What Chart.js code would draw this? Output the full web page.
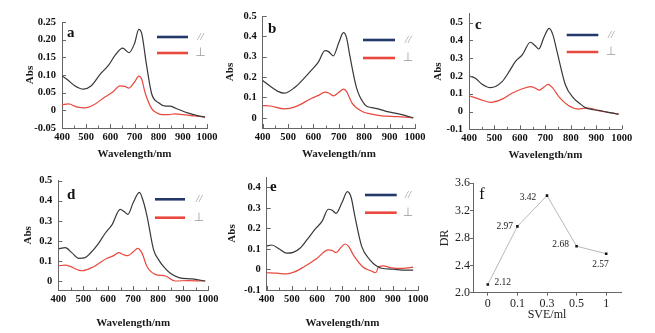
<!DOCTYPE html>
<html><head><meta charset="utf-8">
<script src="https://cdn.jsdelivr.net/npm/chart.js@4.4.1/dist/chart.umd.min.js"></script>
<style>
html,body{margin:0;padding:0;background:#fff;}
#wrap{position:relative;width:655px;height:333px;overflow:hidden;background:#fff;}
#wrap canvas{position:absolute;left:0;top:0;}
</style></head>
<body><div id="wrap"></div>
<script>
// ---------- DATA ----------
const X_TICKS = [400, 500, 600, 700, 800, 900, 1000];
const X_MINOR = [450, 550, 650, 750, 850, 950];
const SERIES_LABELS = ['//', '\u22A5'];

const WL_A = [400,420,450,488,520,560,592,620,651,677,700,718,730,750,771,798,830,847,870,923,960,992];
const A_PAR = [0.097,0.088,0.071,0.060,0.069,0.104,0.127,0.156,0.176,0.163,0.189,0.229,0.217,0.127,0.047,0.022,0.012,0.012,0.006,-0.008,-0.015,-0.019];
const WL_A2 = [400,427,460,495,530,578,610,640,660,677,700,718,730,743,771,790,812,840,868,900,950,992];
const A_PERP = [0.016,0.018,0.010,0.007,0.015,0.038,0.052,0.069,0.068,0.063,0.080,0.097,0.088,0.052,0.005,-0.006,-0.012,-0.012,-0.010,-0.012,-0.016,-0.019];
const A_Y_TICKS = [-0.05,0,0.05,0.10,0.15,0.20,0.25];
const A_Y_LABELS = ['-0.05','0','0.05','0.10','0.15','0.20','0.25'];

const WL_B = [400,435,460,485,527,560,593,620,645,660,678,700,718,730,744,770,803,830,855,880,921,960,993];
const B_PAR = [0.183,0.150,0.130,0.121,0.150,0.190,0.235,0.275,0.330,0.325,0.304,0.370,0.418,0.395,0.300,0.146,0.064,0.050,0.044,0.034,0.023,0.012,0.000];
const WL_B2 = [400,430,485,530,593,620,645,660,678,700,718,730,752,792,830,869,930,993];
const B_PERP = [0.060,0.058,0.044,0.055,0.096,0.110,0.126,0.122,0.108,0.125,0.141,0.130,0.072,0.031,0.018,0.010,0.006,0.000];
const B_Y_TICKS = [0,0.1,0.2,0.3,0.4,0.5];
const B_Y_LABELS = ['0','0.1','0.2','0.3','0.4','0.5'];

const WL_C = [400,425,450,484,530,560,582,610,641,660,674,695,715,730,746,779,811,835,857,890,923,960,988];
const C_PAR = [0.200,0.187,0.155,0.134,0.168,0.230,0.281,0.320,0.390,0.370,0.352,0.420,0.468,0.430,0.337,0.149,0.075,0.045,0.022,0.010,0.003,-0.008,-0.015];
const WL_C2 = [400,440,484,530,569,610,641,660,676,695,711,730,753,792,831,850,870,900,940,988];
const C_PERP = [0.089,0.070,0.052,0.070,0.103,0.128,0.140,0.132,0.121,0.138,0.153,0.130,0.084,0.033,0.014,0.018,0.020,0.008,-0.003,-0.015];
const C_Y_TICKS = [-0.1,0,0.1,0.2,0.3,0.4,0.5];
const C_Y_LABELS = ['-0.1','0','0.1','0.2','0.3','0.4','0.5'];

const WL_D = [400,428,455,482,505,528,560,588,615,648,665,679,700,725,740,756,782,805,822,849,883,936,989];
const D_PAR = [0.160,0.166,0.140,0.113,0.115,0.138,0.185,0.238,0.280,0.357,0.345,0.332,0.390,0.442,0.400,0.321,0.155,0.100,0.071,0.038,0.017,0.010,0.000];
const WL_D2 = [400,428,495,540,595,620,642,660,679,700,719,735,756,789,829,869,920,989];
const D_PERP = [0.076,0.079,0.051,0.070,0.113,0.125,0.141,0.132,0.126,0.145,0.163,0.140,0.071,0.033,0.025,0.000,0.002,0.000];
const D_Y_TICKS = [0,0.1,0.2,0.3,0.4,0.5];
const D_Y_LABELS = ['0','0.1','0.2','0.3','0.4','0.5'];

const WL_E = [400,420,450,479,505,532,560,592,620,644,660,675,700,720,735,750,777,810,836,856,902,955,981];
const E_PAR = [0.114,0.119,0.100,0.079,0.083,0.103,0.145,0.196,0.235,0.293,0.288,0.273,0.330,0.379,0.350,0.257,0.111,0.046,0.017,0.006,0.001,-0.003,-0.003];
const WL_E2 = [400,440,479,510,545,600,644,660,675,695,711,725,744,783,810,833,843,862,902,940,981];
const E_PERP = [-0.016,-0.018,-0.022,-0.012,0.011,0.055,0.095,0.092,0.082,0.108,0.124,0.112,0.070,0.011,-0.005,-0.016,0.011,0.017,0.006,0.005,0.011];
const E_Y_TICKS = [-0.1,0,0.1,0.2,0.3,0.4];
const E_Y_LABELS = ['-0.1','0','0.1','0.2','0.3','0.4'];

const F_CATEGORIES = ['0','0.1','0.3','0.5','1'];
const F_DR = [2.12, 2.97, 3.42, 2.68, 2.57];
const F_Y_TICKS = [2.0, 2.4, 2.8, 3.2, 3.6];
const F_Y_LABELS = ['2.0','2.4','2.8','3.2','3.6'];

// ---------- STYLE ----------
const SERIF = '"Liberation Serif", "Times New Roman", serif';
const COL_PAR = '#383838', COL_PERP = '#e8483d', COL_LEG_PAR = '#23386b';
const AXIS_COL = '#666';
const W = 655, H = 333;

// ---------- PLUGINS ----------
const innerTicks = {
  id: 'innerTicks',
  afterDatasetsDraw(chart, args, o) {
    if (!o || !o.on) return;
    const ctx = chart.ctx, ca = chart.chartArea, xs = chart.scales.x, ys = chart.scales.y;
    ctx.save(); ctx.strokeStyle = AXIS_COL; ctx.lineWidth = 1; ctx.beginPath();
    const xt = (vals, len) => vals.forEach(v => { const p = Math.round(xs.getPixelForValue(v)) + 0.5; ctx.moveTo(p, ca.bottom); ctx.lineTo(p, ca.bottom - len); });
    const yt = (vals, len) => vals.forEach(v => { const p = Math.round(ys.getPixelForValue(v)) + 0.5; ctx.moveTo(ca.left, p); ctx.lineTo(ca.left + len, p); });
    xt(o.xMajor, 4); xt(o.xMinor, 2.5); yt(o.yMajor, 4);
    ctx.stroke(); ctx.restore();
  }
};
const panelLetter = {
  id: 'panelLetter',
  afterDraw(chart, args, o) {
    if (!o || !o.text) return;
    const ctx = chart.ctx, ca = chart.chartArea;
    ctx.save(); ctx.fillStyle = '#111'; ctx.font = o.font; ctx.textBaseline = 'alphabetic'; ctx.textAlign = 'left';
    ctx.fillText(o.text, ca.left + o.dx, ca.top + o.dy); ctx.restore();
  }
};
const sideLegend = {
  id: 'sideLegend',
  afterDraw(chart, args, o) {
    if (!o || !o.on) return;
    const ctx = chart.ctx, ca = chart.chartArea;
    const x2 = ca.right - o.gap, x1 = x2 - o.len;
    const cols = [COL_LEG_PAR, COL_PERP];
    [o.y1, o.y2].forEach((dy, i) => {
      const y = ca.top + dy;
      ctx.save(); ctx.strokeStyle = cols[i]; ctx.lineWidth = 2.6; ctx.beginPath();
      ctx.moveTo(x1, y); ctx.lineTo(x2, y); ctx.stroke();
      ctx.fillStyle = '#9a9a9a'; ctx.textAlign = 'center'; ctx.textBaseline = 'middle';
      ctx.font = i === 0 ? 'italic 11px ' + SERIF : '12px "DejaVu Sans", sans-serif';
      ctx.fillText(chart.data.datasets[i].label, x2 + o.tdx, y);
      ctx.restore();
    });
  }
};
const pointLabels = {
  id: 'pointLabels',
  afterDatasetsDraw(chart, args, o) {
    if (!o || !o.offsets) return;
    const ctx = chart.ctx, meta = chart.getDatasetMeta(0), ds = chart.data.datasets[0];
    ctx.save(); ctx.fillStyle = '#222'; ctx.font = '9.5px ' + SERIF; ctx.textAlign = 'center'; ctx.textBaseline = 'middle';
    meta.data.forEach((pt, i) => { ctx.fillText(ds.data[i].toFixed(2), pt.x + o.offsets[i][0], pt.y + o.offsets[i][1]); });
    ctx.restore();
  }
};
Chart.register(innerTicks, panelLetter, sideLegend, pointLabels);

const pts = (wl, v) => wl.map((x, i) => ({ x: x, y: v[i] }));

function geometry(g, titleSize) {
  const lh = titleSize * 1.2;
  const padLeft = g.yTitleX - lh / 2;
  const xBottom = g.xTitleY + lh / 2;
  return {
    padding: { left: padLeft, top: g.T, right: W - g.R, bottom: H - xBottom },
    yW: g.L - padLeft, xH: xBottom - g.B
  };
}

function makeCanvas() {
  const c = document.createElement('canvas');
  c.width = W; c.height = H; c.style.width = W + 'px'; c.style.height = H + 'px';
  document.getElementById('wrap').appendChild(c);
  return c.getContext('2d');
}

const SPECTRA = [
  { letter: 'a', wl1: WL_A, par: A_PAR, wl2: WL_A2, perp: A_PERP, yt: A_Y_TICKS, yl: A_Y_LABELS, min: -0.05, max: 0.25,
    g: { L: 62, R: 207, T: 22, B: 128, yTitleX: 30, xTitleY: 154 }, let: [5, 15], leg: { gap: 19, len: 31, y1: 15, y2: 31, tdx: 12.5 } },
  { letter: 'b', wl1: WL_B, par: B_PAR, wl2: WL_B2, perp: B_PERP, yt: B_Y_TICKS, yl: B_Y_LABELS, min: -0.05, max: 0.5,
    g: { L: 262.7, R: 415, T: 16, B: 128, yTitleX: 230, xTitleY: 154 }, let: [5.3, 17], leg: { gap: 20, len: 32, y1: 24, y2: 42, tdx: 13 } },
  { letter: 'c', wl1: WL_C, par: C_PAR, wl2: WL_C2, perp: C_PERP, yt: C_Y_TICKS, yl: C_Y_LABELS, min: -0.1, max: 0.55,
    g: { L: 469, R: 621.7, T: 13.8, B: 129.3, yTitleX: 438, xTitleY: 155 }, let: [6, 15.5], leg: { gap: 23.4, len: 31.6, y1: 21.2, y2: 38.2, tdx: 12.7 } },
  { letter: 'd', wl1: WL_D, par: D_PAR, wl2: WL_D2, perp: D_PERP, yt: D_Y_TICKS, yl: D_Y_LABELS, min: -0.045, max: 0.5,
    g: { L: 58.3, R: 208, T: 180.7, B: 290, yTitleX: 28, xTitleY: 323 }, let: [8.7, 18.3], leg: { gap: 23, len: 30, y1: 18.6, y2: 37, tdx: 14 } },
  { letter: 'e', wl1: WL_E, par: E_PAR, wl2: WL_E2, perp: E_PERP, yt: E_Y_TICKS, yl: E_Y_LABELS, min: -0.1, max: 0.45,
    g: { L: 266.7, R: 418, T: 177, B: 290, yTitleX: 231.7, xTitleY: 323 }, let: [3.3, 13.7], leg: { gap: 21.3, len: 31.7, y1: 18, y2: 35.7, tdx: 11.3 } }
];

const TICK_FONT = { family: SERIF, size: 10.5, weight: 'bold' };
const TITLE_FONT = { family: SERIF, size: 11, weight: 'bold' };

SPECTRA.forEach(p => {
  const geo = geometry(p.g, TITLE_FONT.size);
  new Chart(makeCanvas(), {
    type: 'line',
    data: { datasets: [
      { label: SERIES_LABELS[0], data: pts(p.wl1, p.par), borderColor: COL_PAR, borderWidth: 1.2, pointRadius: 0, tension: 0.35, cubicInterpolationMode: 'monotone' },
      { label: SERIES_LABELS[1], data: pts(p.wl2, p.perp), borderColor: COL_PERP, borderWidth: 1.2, pointRadius: 0, tension: 0.35, cubicInterpolationMode: 'monotone' }
    ]},
    options: {
      responsive: false, animation: false, devicePixelRatio: 1,
      layout: { padding: geo.padding },
      plugins: {
        legend: { display: false }, tooltip: { enabled: false },
        innerTicks: { on: true, xMajor: X_TICKS, xMinor: X_MINOR, yMajor: p.yt },
        panelLetter: { text: p.letter, dx: p.let[0], dy: p.let[1], font: 'bold 15px ' + SERIF },
        sideLegend: Object.assign({ on: true }, p.leg)
      },
      scales: {
        x: {
          type: 'linear', min: 400, max: 1000,
          afterBuildTicks: s => { s.ticks = X_TICKS.map(v => ({ value: v })); },
          afterFit: s => { s.height = geo.xH; },
          ticks: { font: TICK_FONT, color: '#111', padding: 3, maxRotation: 0, autoSkip: false, callback: v => String(v) },
          grid: { display: false, drawTicks: false },
          border: { display: true, color: AXIS_COL, width: 1 },
          title: { display: true, text: 'Wavelength/nm', font: TITLE_FONT, color: '#1a1a1a', padding: 0 }
        },
        y: {
          type: 'linear', min: p.min, max: p.max,
          afterBuildTicks: s => { s.ticks = p.yt.map(v => ({ value: v })); },
          afterFit: s => { s.width = geo.yW; },
          ticks: { font: TICK_FONT, color: '#111', padding: 6, autoSkip: false, callback: (v, i) => p.yl[i] },
          grid: { display: false, drawTicks: false },
          border: { display: true, color: AXIS_COL, width: 1 },
          title: { display: true, text: 'Abs', font: TITLE_FONT, color: '#1a1a1a', padding: 0 }
        }
      }
    }
  });
});

// ---------- Panel f ----------
(function () {
  const FT = { family: SERIF, size: 12 };
  const geo = geometry({ L: 473, R: 621, T: 183.3, B: 292.7, yTitleX: 445, xTitleY: 315 }, 12);
  new Chart(makeCanvas(), {
    type: 'line',
    data: { labels: F_CATEGORIES, datasets: [{
      label: 'DR', data: F_DR, borderColor: '#b8b8b8', borderWidth: 1, tension: 0,
      pointStyle: 'rect', pointRadius: 1.8, pointBackgroundColor: '#111', pointBorderColor: '#111', pointBorderWidth: 0
    }]},
    options: {
      responsive: false, animation: false, devicePixelRatio: 1,
      layout: { padding: geo.padding },
      plugins: {
        legend: { display: false }, tooltip: { enabled: false },
        panelLetter: { text: 'f', dx: 6.3, dy: 15.7, font: '16px ' + SERIF },
        pointLabels: { offsets: [[15, -2], [-12.6, 0], [-19, 2], [-16, -2], [-5.7, 11]] }
      },
      scales: {
        x: {
          type: 'category', offset: true,
          afterFit: s => { s.height = geo.xH; },
          ticks: { font: FT, color: '#222', padding: 1, maxRotation: 0 },
          grid: { display: true, drawOnChartArea: false, drawTicks: true, tickLength: 3, offset: false, color: AXIS_COL },
          border: { display: true, color: AXIS_COL, width: 1 },
          title: { display: true, text: 'SVE/ml', font: FT, color: '#222', padding: 0 }
        },
        y: {
          type: 'linear', min: 2.0, max: 3.6,
          afterBuildTicks: s => { s.ticks = F_Y_TICKS.map(v => ({ value: v })); },
          afterFit: s => { s.width = geo.yW; },
          ticks: { font: FT, color: '#222', padding: 0, callback: (v, i) => F_Y_LABELS[i] },
          grid: { display: true, drawOnChartArea: false, drawTicks: true, tickLength: 3, color: AXIS_COL },
          border: { display: true, color: AXIS_COL, width: 1 },
          title: { display: true, text: 'DR', font: FT, color: '#222', padding: 0 }
        }
      }
    }
  });
})();
</script></body></html>
